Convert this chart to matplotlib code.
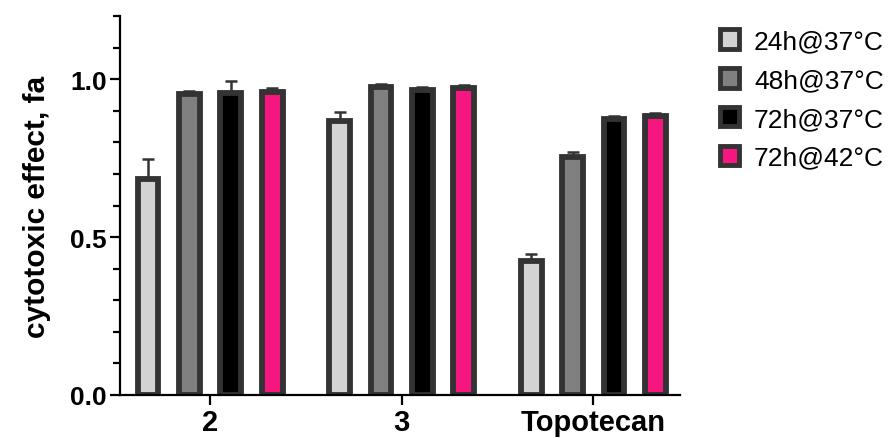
import numpy as np
import matplotlib.pyplot as plt
from matplotlib.patches import Patch

plt.rcParams['font.family'] = ['Liberation Sans', 'DejaVu Sans']

groups = ['2', '3', 'Topotecan']
series = ['24h@37°C', '48h@37°C', '72h@37°C', '72h@42°C']
colors = ['#d3d3d3', '#808080', '#000000', '#f5177f']

fa_24h37 = [0.684, 0.868, 0.424]
fa_48h37 = [0.953, 0.975, 0.754]
fa_72h37 = [0.956, 0.966, 0.874]
fa_72h42 = [0.961, 0.971, 0.883]

err_24h37 = [0.063, 0.028, 0.021]
err_48h37 = [0.010, 0.010, 0.017]
err_72h37 = [0.038, 0.010, 0.010]
err_72h42 = [0.010, 0.010, 0.010]

values = [fa_24h37, fa_48h37, fa_72h37, fa_72h42]
errors = [err_24h37, err_48h37, err_72h37, err_72h42]

edge = '#333333'

fig = plt.figure(figsize=(8.91, 4.39), dpi=100)
ax = fig.add_axes([0.1347, 0.098, 0.628, 0.863])

x = np.arange(len(groups))
step = 0.216
width = 0.108
for i in range(len(series)):
    pos = x + (i - 1.5) * step
    ax.bar(pos, values[i], width, color=colors[i], edgecolor=edge,
           linewidth=4.2, zorder=2)
    ax.errorbar(pos, values[i], yerr=[np.zeros(len(groups)), errors[i]],
                fmt='none', ecolor=edge, elinewidth=1.8, capsize=4,
                capthick=1.8, zorder=1)

ax.set_xlim(-0.47, 2.45)
ax.set_ylim(0, 1.2)
ax.set_yticks([0.0, 0.5, 1.0])
ax.set_yticklabels(['0.0', '0.5', '1.0'])
ax.set_yticks(np.arange(0, 1.21, 0.1), minor=True)
ax.set_xticks(x)
ax.set_xticklabels(groups)

for s in ['top', 'right']:
    ax.spines[s].set_visible(False)
for s in ['left', 'bottom']:
    ax.spines[s].set_linewidth(1.6)

ax.tick_params(axis='y', which='major', length=7.5, width=1.6, labelsize=19,
               pad=2)
ax.tick_params(axis='y', which='minor', length=5, width=1.6)
ax.tick_params(axis='x', which='major', length=7.5, width=1.6, labelsize=21,
               pad=2)
for lab in ax.get_xticklabels() + ax.get_yticklabels():
    lab.set_fontweight('bold')

ax.set_ylabel('cytotoxic effect, fa', fontsize=21.5, fontweight='bold',
              labelpad=14)

handles = [Patch(facecolor=c, edgecolor=edge, linewidth=3.5) for c in colors]
fig.legend(handles, series, loc='upper left', bbox_to_anchor=(0.781, 0.985),
           frameon=False, fontsize=19, handlelength=0.75, handleheight=0.75,
           handletextpad=0.55, labelspacing=0.56)

fig.savefig('out.png', dpi=100)
